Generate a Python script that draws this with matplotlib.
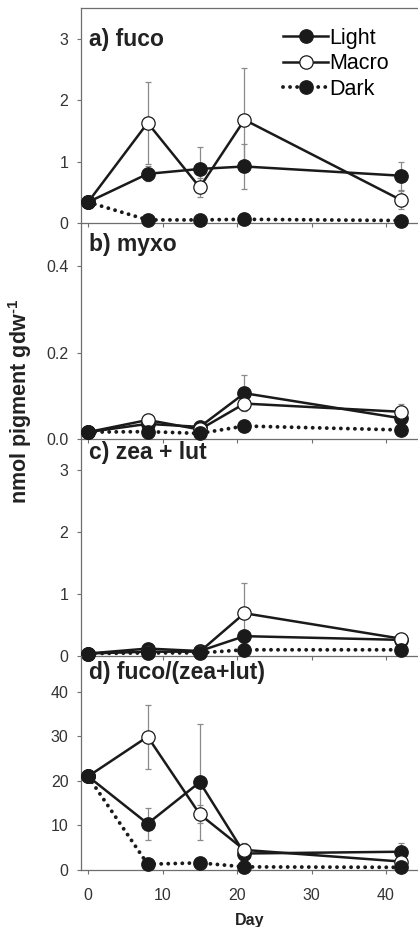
import matplotlib
matplotlib.use("Agg")
import matplotlib.pyplot as plt
from matplotlib.lines import Line2D

plt.rcParams["font.family"] = ["Liberation Sans", "DejaVu Sans"]
plt.rcParams["mathtext.fontset"] = "custom"
plt.rcParams["mathtext.rm"] = "Liberation Sans:bold"
plt.rcParams["mathtext.bf"] = "Liberation Sans:bold"

days = [0, 8, 15, 21, 42]

panel_titles = ["a) fuco", "b) myxo", "c) zea + lut", "d) fuco/(zea+lut)"]

fuco_light = [0.34, 0.80, 0.88, 0.92, 0.77]
fuco_macro = [0.34, 1.63, 0.58, 1.68, 0.375]
fuco_dark = [0.34, 0.05, 0.05, 0.06, 0.04]
fuco_light_err = [0, 0.12, 0.35, 0.37, 0.23]
fuco_macro_err = [0, 0.67, 0.15, 0.84, 0.15]

myxo_light = [0.016, 0.035, 0.028, 0.106, 0.048]
myxo_macro = [0.016, 0.044, 0.022, 0.082, 0.063]
myxo_dark = [0.016, 0.017, 0.013, 0.030, 0.021]
myxo_light_err = [0, 0.004, 0.004, 0.042, 0.008]
myxo_macro_err = [0, 0.004, 0.004, 0.015, 0.019]

zl_light = [0.04, 0.12, 0.08, 0.32, 0.26]
zl_macro = [0.04, 0.07, 0.07, 0.69, 0.28]
zl_dark = [0.04, 0.05, 0.05, 0.10, 0.10]
zl_light_err = [0, 0.03, 0.02, 0.08, 0.03]
zl_macro_err = [0, 0.02, 0.02, 0.48, 0.05]

ratio_light = [21.0, 10.4, 19.7, 3.7, 4.1]
ratio_macro = [21.0, 29.9, 12.5, 4.5, 1.9]
ratio_dark = [21.0, 1.3, 1.6, 0.7, 0.6]
ratio_light_err = [0, 3.6, 13.0, 1.0, 2.0]
ratio_macro_err = [0, 7.2, 2.0, 1.6, 0.5]

panels = [
    (fuco_light, fuco_macro, fuco_dark, fuco_light_err, fuco_macro_err),
    (myxo_light, myxo_macro, myxo_dark, myxo_light_err, myxo_macro_err),
    (zl_light, zl_macro, zl_dark, zl_light_err, zl_macro_err),
    (ratio_light, ratio_macro, ratio_dark, ratio_light_err, ratio_macro_err),
]
ylims = [(0, 3.5), (0, 0.5), (0, 3.5), (0, 48)]
yticks = [[0, 1, 2, 3], [0.0, 0.2, 0.4], [0, 1, 2, 3], [0, 10, 20, 30, 40]]
ytick_labels = [["0", "1", "2", "3"], ["0.0", "0.2", "0.4"], ["0", "1", "2", "3"],
                ["0", "10", "20", "30", "40"]]
xticks = [0, 10, 20, 30, 40]

W, H = 418, 927
fig = plt.figure(figsize=(W / 100, H / 100), dpi=100)

# axes pixel extents (top, bottom) in the reference
boxes = [(8, 223), (223, 439), (439, 656), (656, 870)]
title_off = [31, 22, 14, 16]
left_px = 81

spine_col = "#6e6e6e"
err_col = "#8a8a8a"
ms = 9.6
lw = 1.8

axes = []
for i, (top, bot) in enumerate(boxes):
    ax = fig.add_axes([left_px / W, 1 - bot / H, 1 - left_px / W, (bot - top) / H])
    axes.append(ax)
    light, macro, dark, light_err, macro_err = panels[i]

    ax.errorbar(days, light, yerr=light_err, fmt="none", ecolor=err_col,
                elinewidth=0.9, capsize=2.5, capthick=0.9, zorder=2)
    ax.errorbar(days, macro, yerr=macro_err, fmt="none", ecolor=err_col,
                elinewidth=0.9, capsize=2.5, capthick=0.9, zorder=2)
    ax.plot(days, light, color="#1a1a1a", lw=lw, marker="o", ms=ms,
            mfc="#1a1a1a", mec="#1a1a1a", zorder=3, clip_on=False)
    ax.plot(days, macro, color="#1a1a1a", lw=lw, marker="o", ms=ms,
            mfc="white", mec="#1a1a1a", mew=0.9, zorder=4, clip_on=False)
    ax.plot(days, dark, color="#1a1a1a", lw=2.8, ls=(0, (0.01, 1.8)),
            dash_capstyle="round", marker="o", ms=ms, mfc="#1a1a1a",
            mec="#1a1a1a", zorder=5, clip_on=False)

    ax.set_xlim(-0.95, 44.3)
    ax.set_ylim(*ylims[i])
    ax.set_yticks(yticks[i])
    ax.set_yticklabels(ytick_labels[i])
    ax.set_xticks(xticks)
    if i < 3:
        ax.set_xticklabels([])
    ax.tick_params(axis="both", direction="out", length=3, width=0.8,
                   color=spine_col, labelsize=11.5, labelcolor="#333333")
    ax.tick_params(axis="y", pad=6)
    ax.tick_params(axis="x", pad=10)
    ax.spines["right"].set_visible(False)
    if i > 0:
        ax.spines["top"].set_visible(False)
    for s in ["left", "bottom", "top"]:
        ax.spines[s].set_color(spine_col)
        ax.spines[s].set_linewidth(0.9)
    ax.patch.set_alpha(0)

    ax.text(0.024, 1 - title_off[i] / (bot - top), panel_titles[i],
            transform=ax.transAxes, fontsize=16.5, fontweight="bold",
            color="#222222", ha="left", va="center")

axes[3].set_xlabel("Day", fontsize=11.5, fontweight="bold", color="#222222",
                   labelpad=7)

fig.text(20 / W, 1 - 401 / H, "nmol pigment gdw$^{\\text{-1}}$",
         rotation=90, fontsize=15.5, fontweight="bold", color="#222222",
         ha="center", va="center")

handles = [
    Line2D([], [], color="#1a1a1a", lw=lw, marker="o", ms=ms,
           mfc="#1a1a1a", mec="#1a1a1a"),
    Line2D([], [], color="#1a1a1a", lw=lw, marker="o", ms=ms,
           mfc="white", mec="#1a1a1a", mew=0.9),
    Line2D([], [], color="#1a1a1a", lw=2.8, ls=(0, (0.01, 1.8)),
           dash_capstyle="round", marker="o", ms=ms, mfc="#1a1a1a",
           mec="#1a1a1a"),
]
fig.legend(handles, ["Light", "Macro", "Dark"], loc="upper left",
           bbox_to_anchor=(283 / W, 1 - 28 / H), frameon=False,
           fontsize=15.5, handlelength=2.1, handletextpad=0.05,
           labelspacing=0.2, borderpad=0, borderaxespad=0)

fig.savefig("out.png", dpi=100)
